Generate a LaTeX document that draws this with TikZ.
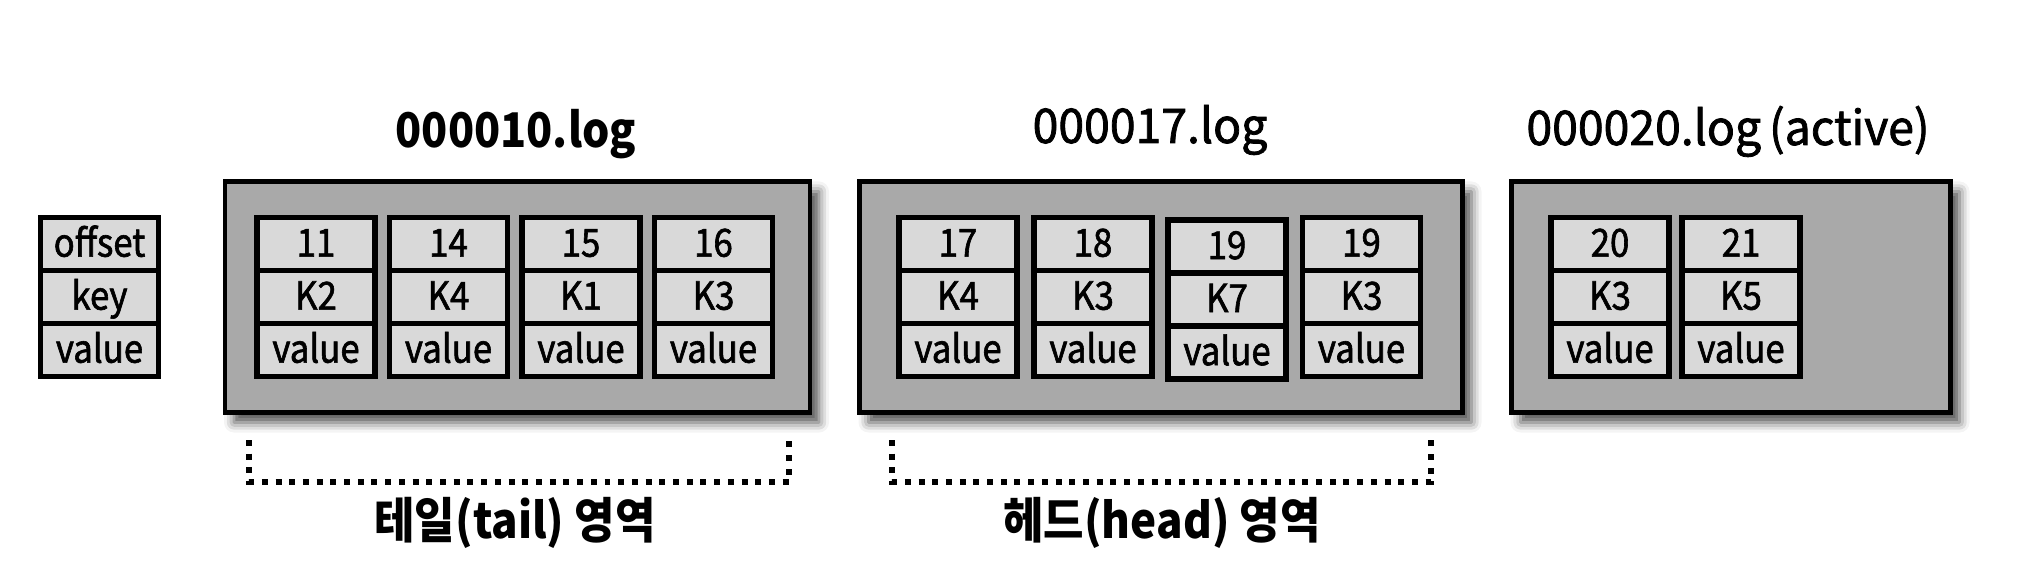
\documentclass[tikz,border=0pt]{standalone}
\usepackage{fontspec}
\setmainfont{Noto Sans CJK KR}[FakeStretch=0.9,FakeBold=1.6,BoldFeatures={FakeBold=0}]
\newfontfamily\titlefont{Noto Sans CJK KR}[FakeStretch=0.97,FakeBold=1.6,BoldFeatures={FakeBold=0}]
\usetikzlibrary{positioning,shadows.blur}
\definecolor{seggray}{HTML}{A9A9A9}
\definecolor{cellgray}{HTML}{D9D9D9}
\tikzset{
  segbox/.style={draw,line width=1.4pt,fill=seggray,inner sep=0,outer sep=0,minimum height=2.31cm,
    blur shadow={shadow xshift=0.09cm,shadow yshift=-0.1cm,shadow blur radius=0.1cm,shadow opacity=70}},
  cell/.style={draw,line width=1.5pt,fill=cellgray,inner sep=0,outer sep=0,minimum width=1.18cm,minimum height=0.53cm,
    text height=8pt,text depth=0.8pt,font=\fontsize{11}{12}\selectfont},
  title/.style={anchor=base,font=\titlefont\fontsize{13.6}{15}\selectfont},
  region/.style={line width=1.7pt,dash pattern=on 1.7pt off 2.2pt},
  tag/.style={font=\fontsize{13.9}{15}\selectfont\bfseries}
}
\begin{document}
\begin{tikzpicture}
\useasboundingbox (0,0) rectangle (20.24,5.8);
\node[cell] (L1) at (0.995,3.36) {offset};
\node[cell,below=0pt of L1] (L2) {key};
\node[cell,below=0pt of L2] (L3) {value};
\node[segbox,minimum width=5.85cm] (seg1) at (5.175,2.83) {};
\node[segbox,minimum width=6.03cm] (seg2) at (11.61,2.83) {};
\node[segbox,minimum width=4.39cm] (seg3) at (17.31,2.83) {};
\node[title,font=\fontsize{13.6}{15}\selectfont\bfseries] (t1) at (5.16,4.32) {000010.log};
\node[title] (t2) at (11.50,4.37) {000017.log};
\node[title] (t3) at (17.28,4.35) {000020.log\,(active)};
\foreach \x/\o/\k [count=\i] in {3.16/11/K2,4.485/14/K4,5.81/15/K1,7.135/16/K3} {
  \node[cell] (a\i-o) at (\x,3.36) {\o};
  \node[cell,below=0pt of a\i-o] (a\i-k) {\k};
  \node[cell,below=0pt of a\i-k] (a\i-v) {value};
}
\foreach \x/\y/\o/\k [count=\i] in {9.58/3.36/17/K4,10.93/3.36/18/K3,12.27/3.335/19/K7,13.615/3.36/19/K3} {
  \node[cell] (b\i-o) at (\x,\y) {\o};
  \node[cell,below=0pt of b\i-o] (b\i-k) {\k};
  \node[cell,below=0pt of b\i-k] (b\i-v) {value};
}
\foreach \x/\o/\k [count=\i] in {16.10/20/K3,17.41/21/K5} {
  \node[cell] (c\i-o) at (\x,3.36) {\o};
  \node[cell,below=0pt of c\i-o] (c\i-k) {\k};
  \node[cell,below=0pt of c\i-k] (c\i-v) {value};
}
\draw[region] (2.49,1.40) -- (2.49,0.98) -- (7.89,0.98) -- (7.89,1.40);
\draw[region] (8.92,1.40) -- (8.92,0.98) -- (14.31,0.98) -- (14.31,1.40);
\node[tag] (tail) at (5.15,0.57) {테일(tail) 영역};
\node[tag] (head) at (11.62,0.57) {헤드(head) 영역};
\end{tikzpicture}
\end{document}
